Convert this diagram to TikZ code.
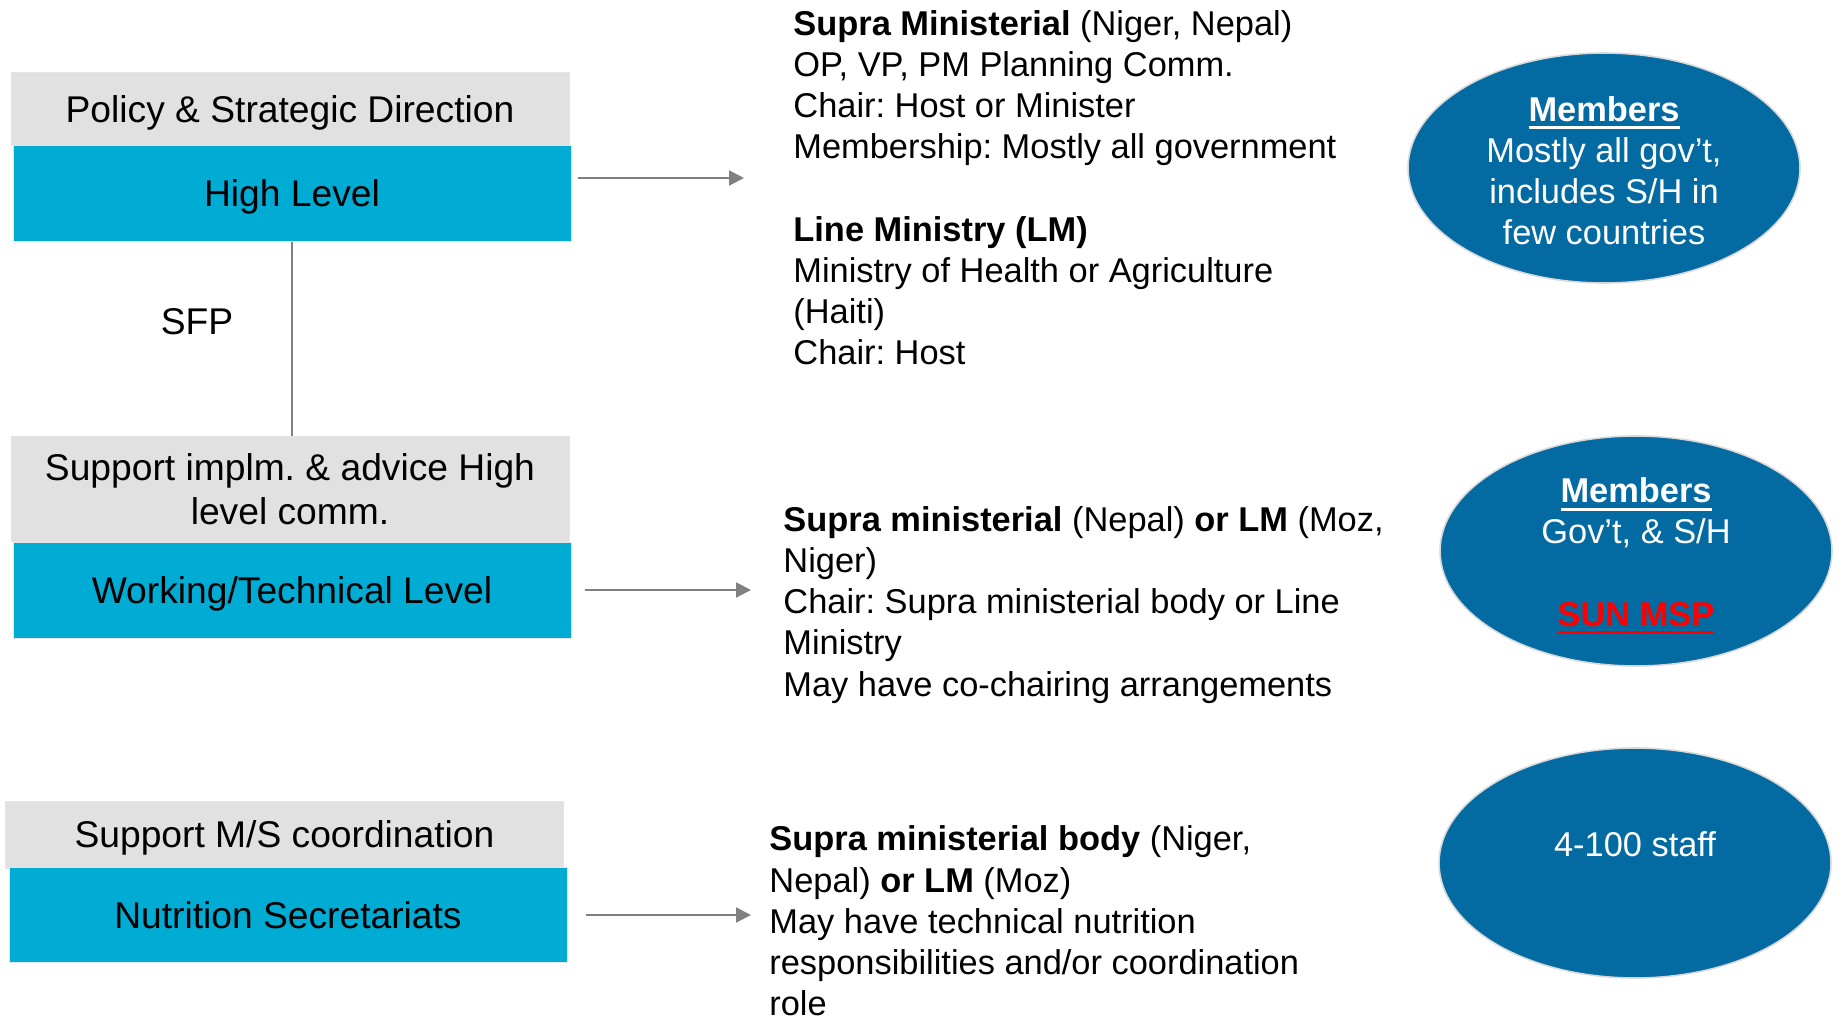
\documentclass[tikz,border=0pt]{standalone}
\usepackage{fontspec}
\setmainfont{Liberation Sans}
\usetikzlibrary{shapes.geometric,arrows.meta}
\definecolor{headgray}{RGB}{225,225,225}
\definecolor{levelblue}{RGB}{0,172,212}
\definecolor{memberblue}{RGB}{4,106,162}
\definecolor{arrowgray}{RGB}{128,128,128}
\definecolor{sunred}{RGB}{255,0,0}
\newsavebox\ulbox
\newcommand\ulbar[1]{\sbox\ulbox{#1}\rlap{\rule[-4pt]{\wd\ulbox}{1.4pt}}\usebox\ulbox}
\frenchspacing

\begin{document}
\begin{tikzpicture}[x=0.5pt, y=-0.5pt,
    lefttext/.style={font=\fontsize{18.6}{22.3}\selectfont, align=center, inner sep=0pt, minimum width=279pt},
    oneline/.style={text height=13.3pt, text depth=0pt},
    headbox/.style={lefttext, fill=headgray, draw=white!90!black, line width=0.5pt},
    levelbox/.style={lefttext, oneline, fill=levelblue, draw=white!90!black, line width=0.5pt, minimum height=48pt},
    infotext/.style={font=\fontsize{17.2}{20.6}\selectfont, align=left, anchor=north west, inner sep=0pt},
    members/.style={ellipse, fill=memberblue, draw=white!85!black, line width=0.8pt, minimum width=196pt, minimum height=115pt, inner sep=0pt, text=white, font=\fontsize{17.2}{20.6}\selectfont, align=center},
    arr/.style={draw=arrowgray, line width=1pt, -{Triangle[length=7.5pt, width=7.5pt]}}]
\useasboundingbox (0,0) rectangle (1839,1018);

    \node[headbox, oneline, minimum height=36.4pt] (pol) at (290,109) {Policy \& Strategic Direction};
    \node[levelbox] (high) at (292,193.5) {High Level};

    \node[headbox, minimum height=52.8pt] (supp) at (290,489) {Support implm. \& advice High\\level comm.};
    \node[levelbox] (work) at (292,590) {Working/Technical Level};

    \node[headbox, oneline, minimum height=33.5pt] (coord) at (284.5,834.5) {Support M/S coordination};
    \node[levelbox, minimum height=47.5pt] (secr) at (288,915.4) {Nutrition Secretariats};

    \draw[arrowgray, line width=0.8pt] (high.south) -- (high.south |- supp.north);
    \node[font=\fontsize{18.6}{22.3}\selectfont] (sfp) at (197,322) {SFP};

    \coordinate (a1) at (744,178);
    \coordinate (a2) at (751,590);
    \coordinate (a3) at (751,915);
    \draw[arr] ([xshift=3pt]high.east |- a1) -- (a1);
    \draw[arr] ([xshift=6.5pt]work.east |- a2) -- (a2);
    \draw[arr] ([xshift=9pt]secr.east |- a3) -- (a3);

    \node[infotext] (hightxt) at (793,10) {
        \textbf{Supra Ministerial} (Niger, Nepal)\\
        OP, VP, PM Planning Comm.\\
        Chair: Host or Minister\\
        Membership: Mostly all government\\[20.6pt]
        \textbf{Line Ministry (LM)}\\
        Ministry of Health or Agriculture\\
        (Haiti)\\
        Chair: Host
    };
    \node[infotext] (worktxt) at (783,506) {
        \textbf{Supra ministerial} (Nepal) \textbf{or LM} (Moz,\\
        Niger)\\
        Chair: Supra ministerial body or Line\\
        Ministry\\
        May have co-chairing arrangements
    };
    \node[infotext] (secrtxt) at (769,825.5) {
        \textbf{Supra ministerial body} (Niger,\\
        Nepal) \textbf{or LM} (Moz)\\
        May have technical nutrition\\
        responsibilities and/or coordination\\
        role
    };

    \node[members] (mem1) at (1604,168) {};
    \node[text=white, font=\fontsize{17.2}{20.6}\selectfont, align=center, inner sep=0pt] (mem1txt) at (1604,170.5) {
        \ulbar{\textbf{Members}}\\
        Mostly all gov’t,\\
        includes S/H in\\
        few countries
    };
    \node[members] (mem2) at (1636,551) {};
    \node[text=white, font=\fontsize{17.2}{20.6}\selectfont, align=center, inner sep=0pt] (mem2txt) at (1636,556) {
        \ulbar{\textbf{Members}}\\
        Gov’t, \& S/H\\[20.6pt]
        \textcolor{sunred}{\ulbar{\textbf{SUN MSP}}}
    };
    \node[members] (mem3) at (1635,863) {};
    \node[text=white, font=\fontsize{17.2}{20.6}\selectfont] (staff) at (1635,844) {4-100 staff};
\end{tikzpicture}
\end{document}
